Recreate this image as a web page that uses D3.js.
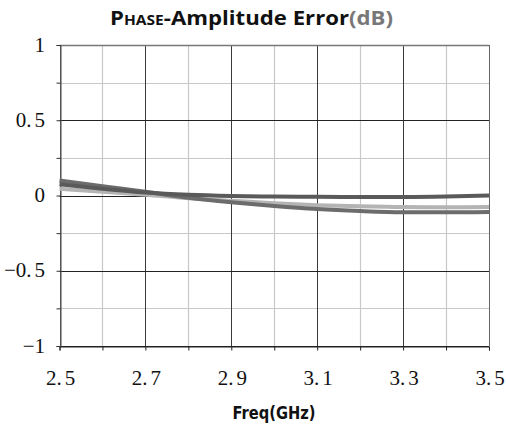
<!DOCTYPE html>
<html><head><meta charset="utf-8">
<script src="https://cdn.jsdelivr.net/npm/d3@7/dist/d3.min.js"></script>
<style>body{margin:0;background:#fff}svg{display:block}</style>
</head><body>
<svg id="c" width="506" height="428"></svg>
<script>
const freqs = [2.5,2.6,2.7,2.8,2.9,3.0,3.1,3.2,3.3,3.4,3.5];
const seriesA = [0.100,0.062,0.025,-0.015,-0.045,-0.070,-0.090,-0.103,-0.111,-0.112,-0.109];
const seriesB = [0.075,0.045,0.020,0.005,-0.003,-0.007,-0.009,-0.010,-0.010,-0.007,0.000];
const seriesC = [0.045,0.025,0.005,-0.018,-0.035,-0.052,-0.064,-0.072,-0.077,-0.078,-0.077];
const xTicks = [2.5,2.7,2.9,3.1,3.3,3.5];
const xMinor = [2.6,2.8,3.0,3.2,3.4];
const yTicks = [-1,-0.5,0,0.5,1];
const yMinor = [-0.75,-0.25,0.25,0.75];
const yLabels = ["-1","-0.5","0","0.5","1"];

const svg = d3.select("#c");
const x = d3.scaleLinear().domain([2.5,3.5]).range([59.5,489]);
const y = d3.scaleLinear().domain([-1,1]).range([346,45]);

const g = svg.append("g");
g.selectAll(".mx").data(xMinor).enter().append("line")
  .attr("x1",d=>Math.round(x(d))+0.5).attr("x2",d=>Math.round(x(d))+0.5)
  .attr("y1",y(1)).attr("y2",y(-1)).attr("stroke","#c8c8c8").attr("stroke-width",1.2);
g.selectAll(".my").data(yMinor).enter().append("line")
  .attr("y1",d=>Math.round(y(d))+0.5).attr("y2",d=>Math.round(y(d))+0.5)
  .attr("x1",x(2.5)).attr("x2",x(3.5)).attr("stroke","#c8c8c8").attr("stroke-width",1.2);
g.selectAll(".Mx").data(xTicks).enter().append("line")
  .attr("x1",d=>Math.round(x(d))+0.5).attr("x2",d=>Math.round(x(d))+0.5)
  .attr("y1",y(1)).attr("y2",y(-1)).attr("stroke",d=>(d===3.5||d===2.5)?"#666":"#3a3a3a").attr("stroke-width",1);
g.selectAll(".My").data(yTicks).enter().append("line")
  .attr("y1",d=>Math.round(y(d))+0.5).attr("y2",d=>Math.round(y(d))+0.5)
  .attr("x1",x(2.5)).attr("x2",x(3.5)).attr("stroke",d=>d===1?"#777":"#222").attr("stroke-width",d=>d===1?1.5:1);

const xAxis = d3.axisBottom(x).tickValues(freqs).tickSize(4).tickFormat(()=>"");
const ax = svg.append("g").attr("transform",`translate(0,${Math.round(y(-1))+0.5})`).call(xAxis);
ax.select(".domain").attr("stroke","#222");
ax.selectAll(".tick line").attr("stroke","#222");
ax.selectAll(".tick text").remove();
const yAxis = d3.axisLeft(y).tickValues(yTicks.concat(yMinor)).tickSize(4).tickFormat(()=>"");
const ay = svg.append("g").attr("transform",`translate(${Math.round(x(2.5))+0.5},0)`).call(yAxis);
ay.select(".domain").attr("stroke","#444");
ay.selectAll(".tick line").attr("stroke","#333");
ay.selectAll(".tick text").remove();

function numLabel(sel, str){
  const i = str.indexOf(".");
  if (i < 0) { sel.append("tspan").text(str); return; }
  sel.append("tspan").text(str.slice(0,i+1));
  sel.append("tspan").attr("dx",3).text(str.slice(i+1));
}
const labels = svg.append("g");
xTicks.forEach(v=>{
  const tx = labels.append("text").style("font-family","'Liberation Serif'").style("font-size","21px").style("fill","#111")
    .attr("x",x(v)+1).attr("y",385).attr("text-anchor","middle");
  numLabel(tx, v.toFixed(1));
});
yTicks.forEach((v,i)=>{
  const tx = labels.append("text").style("font-family","'Liberation Serif'").style("font-size","21px").style("fill","#111")
    .attr("x",45).attr("y",y(v)+6.5).attr("text-anchor","end");
  numLabel(tx, yLabels[i].replace("-","\u2212"));
});

svg.append("text").attr("x",274).attr("y",419).attr("text-anchor","middle")
  .style("font-family","'DejaVu Sans Condensed'").style("font-size","18px").style("font-weight","bold").style("fill","#111")
  .attr("textLength",83).attr("lengthAdjust","spacingAndGlyphs")
  .text("Freq(GHz)");

const t = svg.append("text").attr("x",251.5).attr("y",25).attr("text-anchor","middle")
  .style("font-family","'Open Sans'").style("font-weight","bold").style("font-size","20px").style("fill","#111");
t.append("tspan").text("P");
t.append("tspan").style("font-size","14px").text("HASE");
t.append("tspan").text("-Amplitude Error");
t.append("tspan").style("fill","#777").text("(dB)");
t.attr("textLength",283).attr("lengthAdjust","spacingAndGlyphs");

const line = d3.line().x((d,i)=>x(freqs[i])).y(d=>y(d)).curve(d3.curveMonotoneX);
const series = [
  {v:seriesC,c:"#b4b4b4"},
  {v:seriesA,c:"#6c6c6c"},
  {v:seriesB,c:"#5a5a5a"}
];
svg.append("g").selectAll("path").data(series).enter().append("path")
  .attr("d",d=>line(d.v)).attr("fill","none").attr("stroke",d=>d.c).attr("stroke-width",4);
</script>
</body></html>
